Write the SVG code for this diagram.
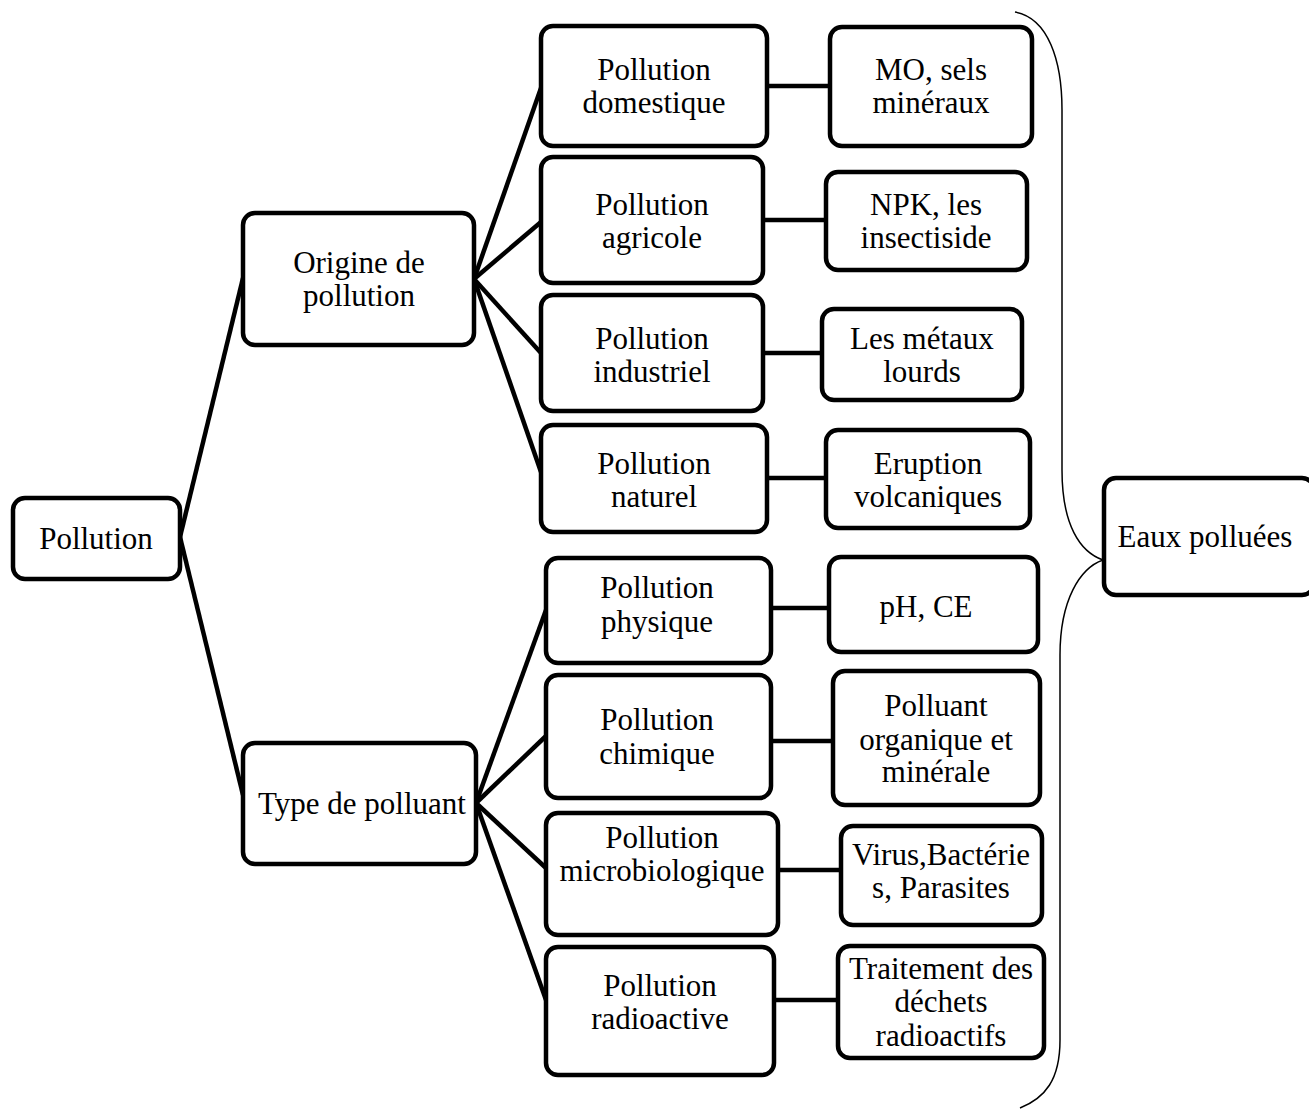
<svg xmlns="http://www.w3.org/2000/svg" width="1309" height="1111" viewBox="0 0 1309 1111">
<style>
.box{fill:#fff;stroke:#000;stroke-width:4.5}
.t{font-family:"Liberation Serif","Times New Roman",serif;font-size:31px;fill:#000;text-anchor:middle}
.c{stroke:#000;stroke-width:4.5;fill:none}
.brace{stroke:#000;stroke-width:1.5;fill:none}
</style>
<rect width="1309" height="1111" fill="#fff"/>
<g id="connectors">
<line class="c" x1="180" y1="537" x2="243" y2="278"/>
<line class="c" x1="180" y1="537" x2="243" y2="795"/>
<line class="c" x1="474" y1="279" x2="541" y2="88"/>
<line class="c" x1="474" y1="279" x2="541" y2="222"/>
<line class="c" x1="474" y1="279" x2="541" y2="353"/>
<line class="c" x1="474" y1="279" x2="541" y2="472"/>
<line class="c" x1="476" y1="803" x2="546" y2="610"/>
<line class="c" x1="476" y1="803" x2="546" y2="736"/>
<line class="c" x1="476" y1="803" x2="546" y2="868"/>
<line class="c" x1="476" y1="803" x2="546" y2="1000"/>
<line class="c" x1="767" y1="86" x2="830" y2="86"/>
<line class="c" x1="763" y1="220" x2="826" y2="220"/>
<line class="c" x1="763" y1="353" x2="822" y2="353"/>
<line class="c" x1="767" y1="478" x2="826" y2="478"/>
<line class="c" x1="771" y1="608" x2="829" y2="608"/>
<line class="c" x1="771" y1="741" x2="833" y2="741"/>
<line class="c" x1="778" y1="870" x2="841" y2="870"/>
<line class="c" x1="774" y1="1000" x2="838" y2="1000"/>
<path class="brace" d="M1015,12 C1048,18 1062,60 1062,110 L1062,470 C1062,525 1080,552 1103,560 C1080,568 1060,600 1060,655 L1060,1040 C1060,1080 1045,1098 1020,1108"/>
</g>
<g id="n-pollution"><rect class="box" x="13" y="498" width="167" height="81" rx="12"/><text class="t" x="96" y="549">Pollution</text></g>
<g id="n-origine"><rect class="box" x="243" y="213" width="231" height="132" rx="12"/><text class="t" x="359" y="273">Origine de</text><text class="t" x="359" y="306">pollution</text></g>
<g id="n-type"><rect class="box" x="243" y="743" width="233" height="121" rx="12"/><text class="t" x="362" y="814">Type de polluant</text></g>
<g id="n-domestique"><rect class="box" x="541" y="26" width="226" height="120" rx="12"/><text class="t" x="654" y="80">Pollution</text><text class="t" x="654" y="113">domestique</text></g>
<g id="n-mo"><rect class="box" x="830" y="27" width="202" height="119" rx="12"/><text class="t" x="931" y="80">MO, sels</text><text class="t" x="931" y="113">minéraux</text></g>
<g id="n-agricole"><rect class="box" x="541" y="157" width="222" height="126" rx="12"/><text class="t" x="652" y="215">Pollution</text><text class="t" x="652" y="248">agricole</text></g>
<g id="n-npk"><rect class="box" x="826" y="172" width="201" height="98" rx="12"/><text class="t" x="926" y="215">NPK, les</text><text class="t" x="926" y="248">insectiside</text></g>
<g id="n-industriel"><rect class="box" x="541" y="295" width="222" height="116" rx="12"/><text class="t" x="652" y="349">Pollution</text><text class="t" x="652" y="382">industriel</text></g>
<g id="n-metaux"><rect class="box" x="822" y="309" width="200" height="91" rx="12"/><text class="t" x="922" y="349">Les métaux</text><text class="t" x="922" y="382">lourds</text></g>
<g id="n-naturel"><rect class="box" x="541" y="425" width="226" height="107" rx="12"/><text class="t" x="654" y="474">Pollution</text><text class="t" x="654" y="507">naturel</text></g>
<g id="n-eruption"><rect class="box" x="826" y="430" width="204" height="98" rx="12"/><text class="t" x="928" y="474">Eruption</text><text class="t" x="928" y="507">volcaniques</text></g>
<g id="n-physique"><rect class="box" x="546" y="558" width="225" height="105" rx="12"/><text class="t" x="657" y="598">Pollution</text><text class="t" x="657" y="632">physique</text></g>
<g id="n-ph"><rect class="box" x="829" y="557" width="209" height="95" rx="12"/><text class="t" x="926" y="617">pH, CE</text></g>
<g id="n-chimique"><rect class="box" x="546" y="675" width="225" height="123" rx="12"/><text class="t" x="657" y="730">Pollution</text><text class="t" x="657" y="764">chimique</text></g>
<g id="n-polluant"><rect class="box" x="833" y="671" width="207" height="134" rx="12"/><text class="t" x="936" y="716">Polluant</text><text class="t" x="936" y="750">organique et</text><text class="t" x="936" y="782">minérale</text></g>
<g id="n-micro"><rect class="box" x="546" y="813" width="232" height="122" rx="12"/><text class="t" x="662" y="848">Pollution</text><text class="t" x="662" y="881">microbiologique</text></g>
<g id="n-virus"><rect class="box" x="841" y="826" width="201" height="99" rx="12"/><text class="t" x="941" y="865">Virus,Bactérie</text><text class="t" x="941" y="898">s, Parasites</text></g>
<g id="n-radio"><rect class="box" x="546" y="947" width="228" height="128" rx="12"/><text class="t" x="660" y="996">Pollution</text><text class="t" x="660" y="1029">radioactive</text></g>
<g id="n-traitement"><rect class="box" x="838" y="946" width="206" height="112" rx="12"/><text class="t" x="941" y="979">Traitement des</text><text class="t" x="941" y="1012">déchets</text><text class="t" x="941" y="1046">radioactifs</text></g>
<g id="n-eaux"><rect class="box" x="1104" y="478" width="210" height="117" rx="12"/><text class="t" x="1205" y="547">Eaux polluées</text></g>
</svg>
